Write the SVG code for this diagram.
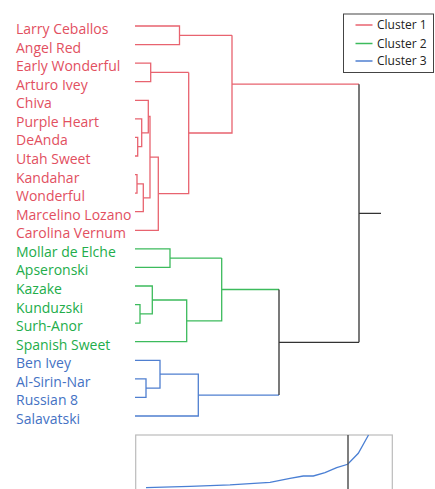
<svg xmlns="http://www.w3.org/2000/svg" width="435" height="489" viewBox="0 0 435 489">
<style>
.lbl{font-family:"Open Sans","Noto Sans","Liberation Sans",sans-serif;font-size:14px}
.r{fill:#e2505f}.g{fill:#22ad4a}.b{fill:#4472c4}
.lk{fill:none;stroke-width:1.3}
.lr{stroke:#e8636f}.lg{stroke:#3cbb5c}.lb{stroke:#4f7fd0}.lk0{stroke:#333}
.leg{font-family:"Open Sans","Noto Sans","Liberation Sans",sans-serif;font-size:12px;fill:#222}
</style>
<rect width="435" height="489" fill="#fff"/>
<g id="labels">
<g id="n-larry-ceballos"><text class="lbl r" x="16" y="34">Larry Ceballos</text></g>
<g id="n-angel-red"><text class="lbl r" x="16" y="52.6">Angel Red</text></g>
<g id="n-early-wonderful"><text class="lbl r" x="16" y="71.1">Early Wonderful</text></g>
<g id="n-arturo-ivey"><text class="lbl r" x="16" y="89.7">Arturo Ivey</text></g>
<g id="n-chiva"><text class="lbl r" x="16" y="108.3">Chiva</text></g>
<g id="n-purple-heart"><text class="lbl r" x="16" y="126.9">Purple Heart</text></g>
<g id="n-deanda"><text class="lbl r" x="16" y="145.4">DeAnda</text></g>
<g id="n-utah-sweet"><text class="lbl r" x="16" y="164">Utah Sweet</text></g>
<g id="n-kandahar"><text class="lbl r" x="16" y="182.6">Kandahar</text></g>
<g id="n-wonderful"><text class="lbl r" x="16" y="201.1">Wonderful</text></g>
<g id="n-marcelino-lozano"><text class="lbl r" x="16" y="219.7">Marcelino Lozano</text></g>
<g id="n-carolina-vernum"><text class="lbl r" x="16" y="238.3">Carolina Vernum</text></g>
<g id="n-mollar-de-elche"><text class="lbl g" x="16" y="256.8">Mollar de Elche</text></g>
<g id="n-apseronski"><text class="lbl g" x="16" y="275.4">Apseronski</text></g>
<g id="n-kazake"><text class="lbl g" x="16" y="294">Kazake</text></g>
<g id="n-kunduzski"><text class="lbl g" x="16" y="312.6">Kunduzski</text></g>
<g id="n-surh-anor"><text class="lbl g" x="16" y="331.1">Surh-Anor</text></g>
<g id="n-spanish-sweet"><text class="lbl g" x="16" y="349.7">Spanish Sweet</text></g>
<g id="n-ben-ivey"><text class="lbl b" x="16" y="368.3">Ben Ivey</text></g>
<g id="n-al-sirin-nar"><text class="lbl b" x="16" y="386.8">Al-Sirin-Nar</text></g>
<g id="n-russian-8"><text class="lbl b" x="16" y="405.4">Russian 8</text></g>
<g id="n-salavatski"><text class="lbl b" x="16" y="424">Salavatski</text></g>
</g>
<g id="connectors">
<path class="lk lr" d="M135,26H179.5V44.6H135M179.5,35.3H232"/>
<path class="lk lr" d="M135,63.1H150.7V81.7H135M150.7,72.4H188.7"/>
<path class="lk lr" d="M135,137.4H137.7V156H135"/>
<path class="lk lr" d="M135,118.9H141.7V146.7H137.7"/>
<path class="lk lr" d="M135,100.3H148.3V132.8H141.7"/>
<path class="lk lr" d="M135,174.6H137V193.1H135"/>
<path class="lk lr" d="M135,211.7H143.3V183.9H137"/>
<path class="lk lr" d="M148.3,116.5H150V197.8H143.3"/>
<path class="lk lr" d="M135,230.3H158.3V157.2H150"/>
<path class="lk lr" d="M158.3,193.7H188.7V72.4"/>
<path class="lk lr" d="M188.7,133H232V35.3M232,84.2H359"/>
<path class="lk lg" d="M135,248.8H170V267.4H135M170,258.1H221.7"/>
<path class="lk lg" d="M135,304.6H140V323.1H135"/>
<path class="lk lg" d="M135,286H152.3V313.9H140"/>
<path class="lk lg" d="M152.3,300H186.7V341.7H135"/>
<path class="lk lg" d="M186.7,320.8H221.7V258.1M221.7,289.5H279"/>
<path class="lk lb" d="M135,378.8H146V397.4H135"/>
<path class="lk lb" d="M135,360.3H160V388.1H146"/>
<path class="lk lb" d="M160,374.2H198.3V416H135"/>
<path class="lk lb" d="M198.3,395.1H279"/>
<path class="lk lk0" d="M279,289.5V395.1M279,342.3H359M359,84.2V342.3M359,213.3H381"/>
</g>
<g id="legend">
<rect x="343.5" y="14" width="90" height="58.5" fill="#fff" stroke="#444" stroke-width="1"/>
<line x1="355.5" y1="25" x2="372.5" y2="25" stroke="#e8636f" stroke-width="1.5"/>
<line x1="355.5" y1="43.5" x2="372.5" y2="43.5" stroke="#3cbb5c" stroke-width="1.5"/>
<line x1="355.5" y1="61" x2="372.5" y2="61" stroke="#4f7fd0" stroke-width="1.5"/>
<text class="leg" x="377" y="29.3">Cluster 1</text>
<text class="leg" x="377" y="47.8">Cluster 2</text>
<text class="leg" x="377" y="65.3">Cluster 3</text>
</g>
<g id="elbow-chart">
<rect x="135.7" y="435" width="256.6" height="60" fill="#fff" stroke="#bbb" stroke-width="1.2"/>
<polyline fill="none" stroke="#4a7fd4" stroke-width="1.3" points="146,487.7 190,486.3 230,484.8 270,482.3 290,478.3 303.3,476 313.3,476 325,472.7 336.7,467.7 347.7,464.3 358.3,453.3 368.5,435"/>
<line x1="348" y1="435" x2="348" y2="489" stroke="#555" stroke-width="1.5"/>
</g>
</svg>
